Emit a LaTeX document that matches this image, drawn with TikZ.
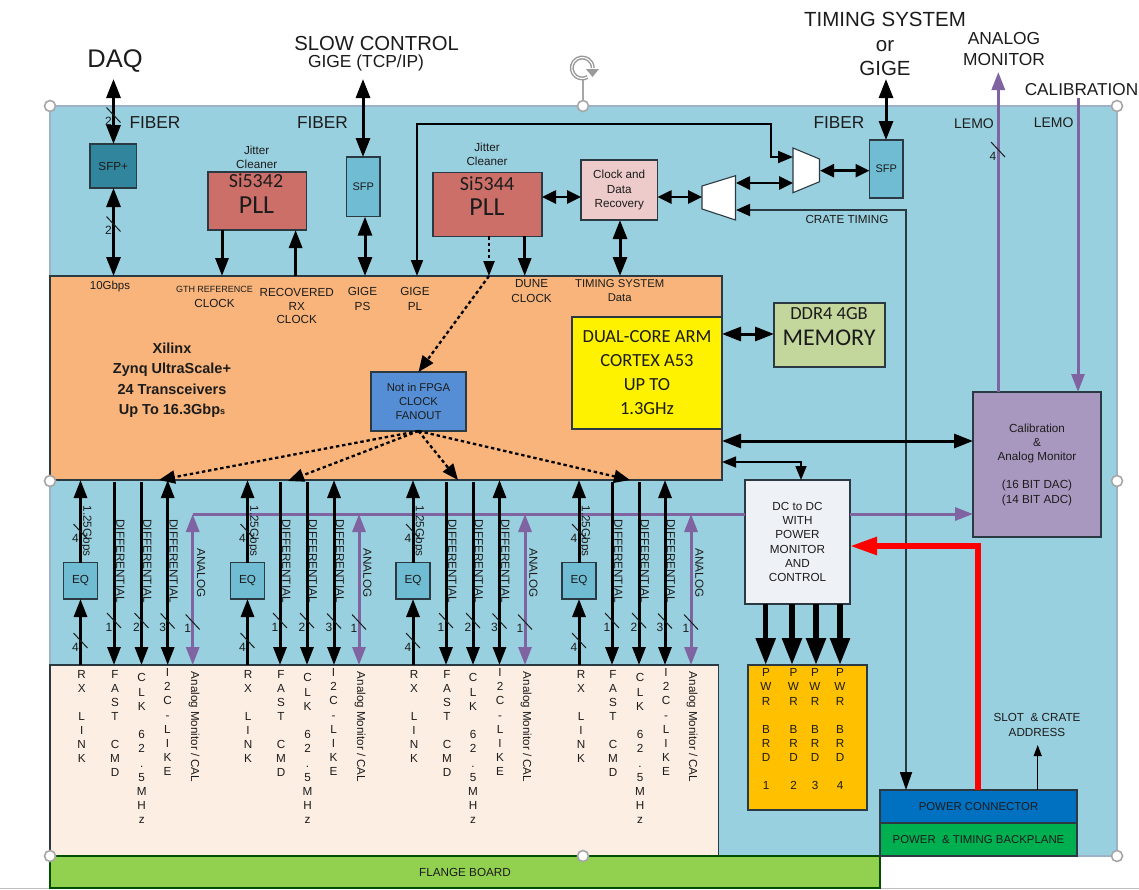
\documentclass[tikz,border=0pt]{standalone}
\usepackage{fontspec}
\setmainfont{Liberation Sans}
\newfontfamily\calibri{Carlito}
\usetikzlibrary{arrows.meta}
\definecolor{panelc}{HTML}{99D0DF}
\definecolor{orangec}{HTML}{F8B47A}
\definecolor{peachc}{HTML}{FDEEE3}
\definecolor{flangec}{HTML}{92D050}
\definecolor{sfpdark}{HTML}{31859C}
\definecolor{sfplight}{HTML}{70BCD3}
\definecolor{pllc}{HTML}{CC6F69}
\definecolor{cdrc}{HTML}{EDCBCB}
\definecolor{ddrc}{HTML}{C3D69B}
\definecolor{fanc}{HTML}{558ED5}
\definecolor{calc}{HTML}{A897BF}
\definecolor{dcc}{HTML}{EEF2F7}
\definecolor{pwrc}{HTML}{FFC000}
\definecolor{connc}{HTML}{0070C0}
\definecolor{backc}{HTML}{00B050}
\definecolor{purplec}{HTML}{8064A2}
\definecolor{edgec}{HTML}{2B3A42}
\definecolor{inkc}{HTML}{1C1C1C}
\definecolor{panelb}{HTML}{9DB2C8}
\tikzset{
  boxn/.style={draw=edgec,line width=1.1pt,inner sep=0pt,outer sep=0pt,align=center,text=inkc},
  txt/.style={inner sep=0pt,outer sep=0pt,align=center,text=inkc},
  hh/.style={arrows={Triangle[width=14pt,length=19pt]-Triangle[width=14pt,length=19pt]},line width=3pt},
  hm/.style={arrows={Triangle[width=13pt,length=14pt]-Triangle[width=13pt,length=14pt]},line width=2.6pt},
  dn/.style={arrows={-Triangle[width=13pt,length=18pt]},line width=3pt},
  pp/.style={arrows={Triangle[width=13pt,length=18pt]-Triangle[width=13pt,length=18pt]},line width=3pt,draw=purplec,color=purplec},
  pu/.style={line width=3pt,draw=purplec,color=purplec},
  dots/.style={line width=2.3pt,dash pattern=on 3.4pt off 2.8pt},
  hand/.style={circle,draw=black!35,fill=white,line width=1.6pt,minimum size=11pt,inner sep=0pt},
  stackt/.style={txt,anchor=north},
  fa/.style={font=\fontsize{11.7pt}{14.3pt}\selectfont},
}
\newcounter{lbl}
\newcommand\lab[6][]{\stepcounter{lbl}\node[txt,font=\fontsize{#2pt}{#3pt}\selectfont,#1] (lab\thelbl) at (#4,#5) {#6};}
\newcommand\bx[7]{\node[boxn,#6,minimum width={(#4)-(#2)},minimum height={(#5)-(#3)}] (#1) at ({((#2)+(#4))/2},{((#3)+(#5))/2}) {#7};}
\newcommand\tick[3]{\draw[line width=1pt,color=inkc] ({#1-7},{#2-7.5}) -- ({#1+7},{#2+7.5}); \lab{12}{14}{{#1-5}}{{#2+6.5}}{#3}}
\begin{document}
\begin{tikzpicture}[x=1pt,y=-1pt]
\useasboundingbox (0,0) rectangle (1139,889);
\fill[white] (0,0) rectangle (1139,889);
\draw[line width=1pt,black!25] (0,888.4) -- (1139,888.4);
% large areas
\bx{panel}{50}{106}{1117}{856}{fill=panelc,draw=panelb,line width=1.6pt}{}
\bx{peach}{50}{665}{718.5}{856}{fill=peachc}{}
\bx{flange}{50}{856}{880}{888}{fill=flangec,draw=black!70!green,fa}{FLANGE BOARD}
\bx{fpga}{50}{276}{722}{480}{fill=orangec}{}
% boxes
\bx{sfpp}{90}{144}{136.5}{188}{fill=sfpdark,fa}{SFP+}
\bx{si42}{208}{172}{306.5}{230}{fill=pllc}{}
\bx{sfpa}{346.5}{157}{380}{216.7}{fill=sfplight,font=\fontsize{11pt}{14pt}\selectfont}{SFP}
\bx{si44}{433}{172.3}{542}{236.3}{fill=pllc}{}
\bx{cdr}{581}{160}{657.5}{220}{fill=cdrc,font=\fontsize{11.7pt}{14.4pt}\selectfont}{Clock and\\Data\\Recovery}
\bx{sfpb}{869.5}{140}{903}{198}{fill=sfplight,font=\fontsize{11pt}{14pt}\selectfont}{SFP}
\bx{arm}{572}{317}{722}{429}{fill=yellow,font=\calibri\fontsize{18.5pt}{24pt}\selectfont}{DUAL-CORE ARM\\CORTEX A53\\UP TO\\1.3GHz}
\bx{ddr}{774}{303}{885}{367}{fill=ddrc}{}
\bx{fan}{371}{372}{466}{431}{fill=fanc,font=\fontsize{11.3pt}{14pt}\selectfont}{Not in FPGA\\CLOCK\\FANOUT}
\bx{cal}{973}{392}{1101}{537}{fill=calc,font=\fontsize{11.7pt}{14.2pt}\selectfont}{Calibration\\\&\\Analog Monitor\\~\\(16 BIT DAC)\\(14 BIT ADC)}
\bx{dc}{745}{480}{850}{604}{fill=dcc,font=\fontsize{11.7pt}{14.2pt}\selectfont}{DC to DC\\WITH\\POWER\\MONITOR\\AND\\CONTROL}
\bx{pwr}{748}{665}{867}{810}{fill=pwrc}{}
\bx{conn}{880}{790}{1077}{823}{fill=connc,font=\fontsize{11.4pt}{14pt}\selectfont}{POWER CONNECTOR}
\bx{back}{880}{823}{1077}{856}{fill=backc,font=\fontsize{11.4pt}{14pt}\selectfont}{POWER\ \ \& TIMING BACKPLANE}
% multiplexers
\draw[fill=white,draw=edgec,line width=1.1pt] (793,148) -- (819.5,159) -- (819.5,181.7) -- (793,192.7) -- cycle;
\draw[fill=white,draw=edgec,line width=1.1pt] (702,186) -- (735.5,175.7) -- (735.5,220) -- (702,209) -- cycle;
\coordinate (muxaL) at (793,157);
\coordinate (muxaLb) at (793,183);
\coordinate (muxaR) at (820,170.7);
\coordinate (muxbL) at (702,197);
\coordinate (muxbR) at (736,183);
\coordinate (muxbRb) at (736,210);
% free ends
\coordinate (daqtop) at (113.5,79);
\coordinate (sctop) at (363,79);
\coordinate (tstop) at (886,79);
\coordinate (amtop) at (998.3,72);
\coordinate (caltop) at (1078,98);
\coordinate (slotend) at (1037.7,745);
\coordinate (glA) at (222,0);
\coordinate (glB) at (295.6,0);
\coordinate (glC) at (365,0);
\coordinate (glD) at (417,124);
\coordinate (glE) at (771,124);
\coordinate (glF) at (771,157);
\coordinate (glG) at (489,0);
\coordinate (glH) at (524.7,0);
\coordinate (glI) at (620,0);
\coordinate (glJ) at (0,197);
\coordinate (glK) at (113.5,0);
\coordinate (glL) at (906,0);
\coordinate (glM) at (0,334);
\coordinate (glN) at (0,441);
\coordinate (glO) at (801,462);
\coordinate (glP) at (978,546);
\coordinate (ana) at (192.7,514);
% purple
\draw[pu] (ana) -- (dc.west |- ana);
\draw[pu,arrows={-Triangle[width=13pt,length=18pt]}] (dc.east |- ana) -- (cal.west |- ana);
\draw[pu,arrows={-Triangle[width=13pt,length=18pt]}] (amtop |- cal.north) -- (amtop);
\draw[pu,arrows={-Triangle[width=13pt,length=18pt]}] (caltop) -- (caltop |- cal.north);
% top connectors
\draw[hh] (daqtop) -- (daqtop |- sfpp.north);
\draw[hh] (glK |- sfpp.south) -- (glK |- fpga.north);
\draw[dn] (glA |- si42.south) -- (glA |- fpga.north);
\draw[dn] (glB |- fpga.north) -- (glB |- si42.south);
\draw[hh] (sctop) -- (sctop |- sfpa.north);
\draw[hh] (glC |- sfpa.south) -- (glC |- fpga.north);
\draw[hh] (tstop) -- (tstop |- sfpb.north);
\draw[line width=2pt,arrows={Triangle[width=12pt,length=16pt]-Triangle[width=12pt,length=15pt]}] (glD |- fpga.north) -- (glD) -- (glE) -- (glF) -- (muxaL |- glF);
\draw[dots,arrows={-Triangle[width=11pt,length=15pt]}] (glG |- si44.south) -- (glG |- fpga.north);
\draw[dn] (glH |- si44.south) -- (glH |- fpga.north);
\draw[hm] (si44.east |- glJ) -- (cdr.west |- glJ);
\draw[hm] (cdr.east |- glJ) -- (muxbL);
\draw[hm] (muxbR) -- (muxaLb);
\draw[hm] (muxaR) -- (sfpb.west |- muxaR);
\draw[hh] (glI |- cdr.south) -- (glI |- fpga.north);
\draw[line width=1.8pt,draw=edgec,arrows={Triangle[width=12pt,length=14pt,color=black]-Triangle[width=12pt,length=18pt,color=black]}] (muxbRb) -- (glL |- muxbRb) -- (glL |- conn.north);
\draw[hh] (arm.east |- glM) -- (ddr.west |- glM);
\draw[hh] (fpga.east |- glN) -- (cal.west |- glN);
\draw[line width=1.5pt,arrows={Triangle[width=11pt,length=14pt]-Triangle[width=11pt,length=14pt]}] (fpga.east |- glO) -- (glO) -- (glO |- dc.north);
\draw[line width=5.5pt,draw=red,color=red,arrows={-Triangle[width=17pt,length=27pt]}] (glP |- conn.north) -- (glP) -- (dc.east |- glP);
\draw[line width=1.2pt,arrows={-Triangle[width=8pt,length=11pt]}] (slotend |- conn.north) -- (slotend);
% dotted fanout
\draw[dots,arrows={-Triangle[width=13pt,length=16pt]}] (glG |- fpga.north) -- (fan.north);
\coordinate (fanA) at (159,480);
\coordinate (fanB) at (288,481);
\coordinate (fanC) at (458,480);
\coordinate (fanD) at (630,480);
\foreach \t in {fanA,fanB,fanC,fanD}{\draw[dots,arrows={-Triangle[width=13pt,length=16pt]}] (fan.south) -- (\t);}
% power arrows
\foreach \n/\x in {a/765.7,b/792,c/816,d/840}{
  \coordinate (pb\n) at (\x,0);
  \draw[line width=5.5pt,arrows={-Triangle[width=19pt,length=27pt]}] (pb\n |- dc.south) -- (pb\n |- pwr.north);
}
% ticks top
\tick{113.5}{115}{2}
\tick{113.5}{224}{2}
\tick{998}{149.5}{4}
% lower columns
\foreach \g/\r/\f/\k/\i/\n/\tr/\tf/\tk/\ti/\tn in {
  a/80.5/114/141.5/167.7/192.7/81.7/115/141.7/167.5/194,
  b/247.5/280/307/334/359/248/281/307.5/333.5/360,
  c/413/446/473/499.5/525/414/447/473/500/526,
  d/579/612/639/665/691/581/613/640/666/692}{
  \bx{eq\g}{\r-17}{562.7}{\r+17}{599}{fill=sfplight,fa}{EQ}
  \coordinate (gf\g) at (\f,0);
  \coordinate (gk\g) at (\k,0);
  \coordinate (gi\g) at (\i,0);
  \coordinate (gn\g) at (\n,0);
  \draw[dn] (eq\g.north) -- (eq\g.north |- fpga.south);
  \draw[dn] (eq\g.south |- peach.north) -- (eq\g.south);
  \draw[dn] ([yshift=-2pt]gf\g |- fpga.south) -- (gf\g |- peach.north);
  \draw[dn] ([yshift=-2pt]gk\g |- fpga.south) -- (gk\g |- peach.north);
  \draw[line width=3pt,arrows={Triangle[width=13pt,length=18pt]-Triangle[width=13pt,length=18pt]}] (gi\g |- fpga.south) -- (gi\g |- peach.north);
  \draw[pp] (gn\g |- ana) -- (gn\g |- peach.north);
  \tick{\r}{531.5}{4}
  \tick{\r}{640.5}{4}
  \tick{\f}{620.5}{1}
  \tick{\k}{620.5}{2}
  \tick{\i}{621}{3}
  \tick{\n}{622}{1}
  \lab[rotate=-90]{11.7}{14}{{\r+6}}{531}{1.25Gbps}
  \lab[rotate=-90]{11.7}{14}{{\f+6.5}}{561}{DIFFERENTIAL}
  \lab[rotate=-90]{11.7}{14}{{\k+6}}{561}{DIFFERENTIAL}
  \lab[rotate=-90]{11.7}{14}{{\i+6}}{561}{DIFFERENTIAL}
  \lab[rotate=-90]{11.7}{14}{{\n+8.5}}{573}{ANALOG}
  \lab[rotate=-90]{11.6}{14}{{\tn}}{727}{Analog Monitor / CAL}
  \lab[stackt]{11.7}{14}{\tr}{670.8}{R\\X\\~\\L\\I\\N\\K}
  \lab[stackt]{11.7}{14}{\tf}{670.8}{F\\A\\S\\T\\~\\C\\M\\D}
  \lab[stackt]{11.7}{14.2}{\tk}{673.8}{C\\L\\K\\~\\6\\2\\.\\5\\M\\H\\z}
  \lab[stackt]{11.7}{14.05}{\ti}{668.8}{I\\2\\C\\-\\L\\I\\K\\E}
}
% PWR labels
\foreach \x/\v in {766/1,793.5/2,815/3,840/4}{
  \lab[stackt]{11.7}{14.1}{\x}{668.8}{P\\W\\R\\~\\B\\R\\D\\~\\\v}
}
% headline labels
\lab{25.5}{28}{115}{61}{DAQ}
\lab{20.3}{24}{376.7}{44}{SLOW CONTROL}
\lab{17.4}{20}{366}{62.5}{GIGE (TCP/IP)}
\lab{20.5}{24.8}{885}{44}{TIMING SYSTEM\\or\\GIGE}
\lab{17.4}{21}{1004}{49.5}{ANALOG\\MONITOR}
\lab{17.2}{20}{1081.5}{90}{CALIBRATION}
\lab{17.3}{20}{155}{123}{FIBER}
\lab{17.3}{20}{322.5}{123}{FIBER}
\lab{17.3}{20}{839}{123}{FIBER}
\lab{14}{16}{974}{124}{LEMO}
\lab{14}{16}{1053.6}{123}{LEMO}
\lab{11.7}{14.4}{256.7}{157.5}{Jitter\\Cleaner}
\lab{11.7}{14.4}{487}{154.2}{Jitter\\Cleaner}
\lab[font=\calibri\fontsize{20pt}{24pt}\selectfont]{20}{24}{256}{181}{Si5342}
\lab[font=\calibri\fontsize{26pt}{28pt}\selectfont]{26}{28}{256.5}{205}{PLL}
\lab[font=\calibri\fontsize{20pt}{24pt}\selectfont]{20}{24}{487}{184}{Si5344}
\lab[font=\calibri\fontsize{26pt}{28pt}\selectfont]{26}{28}{487}{207}{PLL}
\lab[font=\calibri\fontsize{18.5pt}{24pt}\selectfont]{18.5}{24}{829}{314}{DDR4 4GB}
\lab[font=\calibri\fontsize{24pt}{24pt}\selectfont]{24}{24}{829}{338}{MEMORY}
\lab{11.5}{14}{110}{286.7}{10Gbps}
\lab{9}{14}{214.5}{289}{GTH REFERENCE}
\lab{11.7}{14}{214.5}{303}{CLOCK}
\lab{11.7}{13.8}{296.7}{306}{RECOVERED\\RX\\CLOCK}
\lab{11.7}{14.2}{362.5}{299}{GIGE\\PS}
\lab{11.7}{14.2}{415}{299}{GIGE\\PL}
\lab{11.7}{14.2}{531.6}{291}{DUNE\\CLOCK}
\lab{11.3}{14.2}{619.7}{291}{TIMING SYSTEM\\Data}
\lab{11.7}{14}{847}{219}{CRATE TIMING}
\lab{11.7}{14.4}{1037}{725}{SLOT\ \ \& CRATE\\ADDRESS}
\lab[font=\bfseries\fontsize{14.5pt}{20.5pt}\selectfont]{14.5}{20.5}{172}{380}{Xilinx\\Zynq UltraScale+\\24 Transceivers\\Up To 16.3Gbp{\fontsize{9pt}{9pt}\selectfont s}}
% selection handles
\draw[line width=1.2pt,black!35] (583,80) -- (583,106);
\draw[line width=4pt,black!40] (587.5,77.1) arc (60:360:10.5);
\draw[line width=1.1pt,white] (587.5,77.1) arc (60:360:10.5);
\fill[black!40] (586,69) -- (599,69) -- (592.5,77) -- cycle;
\foreach \n/\x/\y in {a/50/106,b/583/106,c/1117/106,d/50/481,e/1117/481,f/50/856,g/583/856,h/1117/856}{
  \node[hand] (hnd\n) at (\x,\y) {};
}
\end{tikzpicture}
\end{document}
